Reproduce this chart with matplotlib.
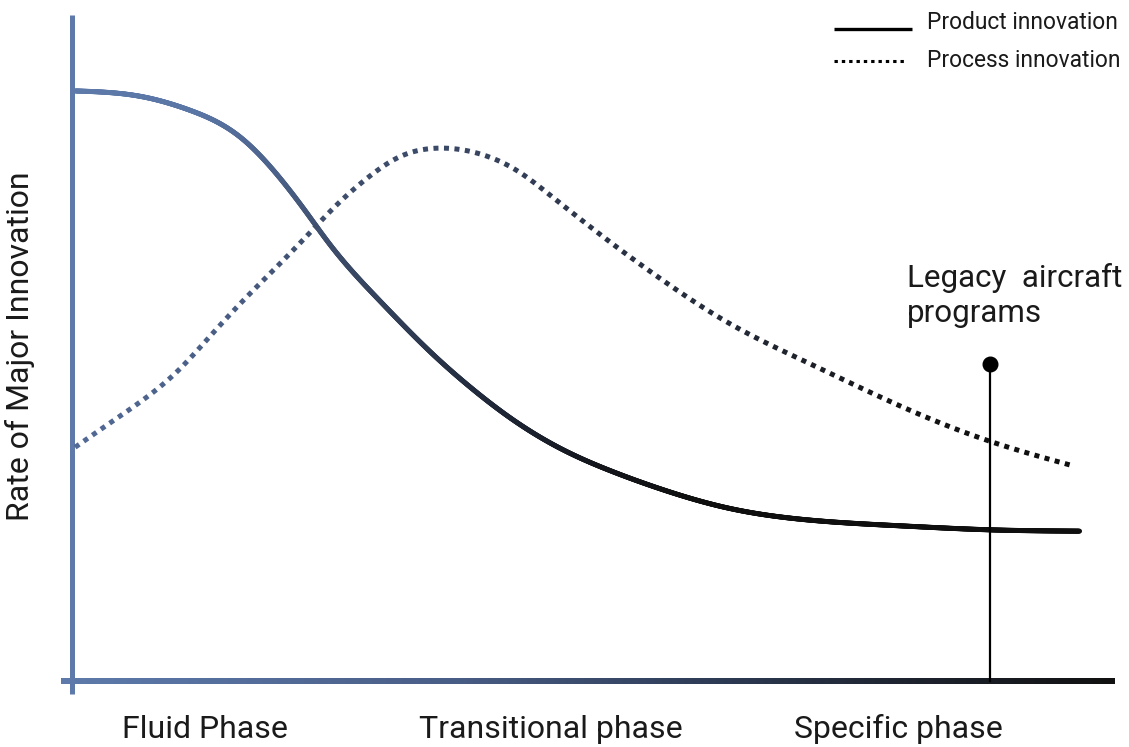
import numpy as np
import matplotlib
matplotlib.use("Agg")
import matplotlib.pyplot as plt
from matplotlib.collections import LineCollection

plt.rcParams['font.family'] = ['Roboto', 'DejaVu Sans']

# curve values (x: time 0-100, y: rate of innovation 0-100)
product_x = [0.3, 6.5, 11.3, 16.1, 19.3, 22.5, 24.7, 29.5, 34.3, 38.2, 42.3, 47.1,
             51.9, 56.7, 62.8, 69.8, 79.4, 88.0, 96.6]
product_y = [88.6, 87.8, 85.7, 81.7, 76.7, 70.3, 65.6, 57.1, 49.5, 44.1, 39.2, 34.7,
             31.4, 28.7, 26.0, 24.3, 23.3, 22.7, 22.5]

process_x = [0.3, 3.6, 6.8, 10.1, 13.2, 16.4, 19.7, 22.8, 25.0, 28.3, 31.4, 35.0,
             39.4, 42.7, 45.8, 51.6, 56.7, 62.8, 70.8, 79.4, 88.0, 96.0]
process_y = [35.1, 38.7, 42.2, 46.5, 51.7, 57.1, 62.3, 67.3, 70.9, 75.5, 78.7, 80.0,
             79.0, 76.6, 73.0, 65.9, 60.1, 53.9, 47.6, 41.3, 36.0, 32.3]

phases = ["Fluid Phase", "Transitional phase", "Specific phase"]
phase_pos = [12.75, 45.9, 79.2]

legacy_x = 88.0
legacy_y = 47.6
legacy_label = ["Legacy  aircraft", "programs"]

# colour gradients, slate blue on the left to near black on the right
axis_stops = [0, 35.3, 60.2, 79.4, 100]
axis_rgb = np.array([[93, 122, 171], [74, 95, 136], [47, 61, 88], [30, 36, 48], [17, 17, 17]]) / 255
product_stops = [0, 12.3, 19.9, 24.7, 33.4, 41.0, 50.6, 60.2]
product_rgb = np.array([[94, 122, 170], [90, 118, 165], [75, 97, 137], [61, 77, 107],
                        [45, 57, 80], [30, 38, 54], [20, 22, 28], [15, 15, 15]]) / 255
process_stops = [0, 16.4, 22.8, 35.0, 51.6, 63.1, 79.4, 96.0]
process_rgb = np.array([[82, 106, 150], [72, 92, 130], [62, 78, 108], [59, 74, 104],
                        [42, 51, 69], [35, 42, 56], [20, 20, 22], [15, 15, 15]]) / 255


def grad_color(x, stops, rgb):
    x = np.atleast_1d(x)
    return np.column_stack([np.interp(x, stops, rgb[:, i]) for i in range(3)])


def spline(x, y, xn):
    # natural cubic spline through the read-off points, only used to draw a smooth curve
    x = np.asarray(x, float)
    y = np.asarray(y, float)
    n = len(x)
    h = np.diff(x)
    A = np.zeros((n, n))
    b = np.zeros(n)
    A[0, 0] = A[-1, -1] = 1
    for k in range(1, n - 1):
        A[k, k - 1] = h[k - 1]
        A[k, k] = 2 * (h[k - 1] + h[k])
        A[k, k + 1] = h[k]
        b[k] = 6 * ((y[k + 1] - y[k]) / h[k] - (y[k] - y[k - 1]) / h[k - 1])
    M = np.linalg.solve(A, b)
    i = np.clip(np.searchsorted(x, xn) - 1, 0, n - 2)
    t = xn - x[i]
    u = x[i + 1] - xn
    return (M[i] * u ** 3 + M[i + 1] * t ** 3) / (6 * h[i]) \
        + (y[i] / h[i] - M[i] * h[i] / 6) * u + (y[i + 1] / h[i] - M[i + 1] * h[i] / 6) * t


fig = plt.figure(figsize=(11.29, 7.47), dpi=100)
ax = fig.add_axes([72 / 1129, 66 / 747, 1043 / 1129, 666 / 747])

# horizontal axis as a gradient strip, vertical axis as a plain line
strip_x = np.linspace(-1.05, 100, 600)
strip = grad_color(strip_x, axis_stops, axis_rgb)[None, :, :]
ax.imshow(strip, extent=[-1.05, 100, -0.38, 0.38], aspect='auto', interpolation='bilinear',
          clip_on=False, zorder=1)
ax.plot([0, 0], [-2, 100], color=axis_rgb[0], lw=3.6, solid_capstyle='butt', clip_on=False, zorder=2)
ax.set_xlim(0, 100)
ax.set_ylim(0, 100)
ax.axis('off')

# product innovation: solid gradient line
xs = np.linspace(product_x[0], product_x[-1], 1500)
c = np.column_stack([xs, spline(product_x, product_y, xs)])
segs = np.stack([c[:-1], c[1:]], axis=1)
ax.add_collection(LineCollection(segs, colors=grad_color((c[:-1, 0] + c[1:, 0]) / 2, product_stops, product_rgb),
                                 linewidths=3.6, capstyle='round', joinstyle='round', zorder=3))

# process innovation: dotted gradient line (dots laid out along arc length in pixels)
xs = np.linspace(process_x[0], process_x[-1], 3000)
c = np.column_stack([xs, spline(process_x, process_y, xs)])
disp = ax.transData.transform(c)
s = np.concatenate([[0], np.cumsum(np.hypot(*np.diff(disp, axis=0).T))])
period, dot = 10.5, 5.0
dots = []
dot_cols = []
for start in np.arange(0, s[-1] - dot, period):
    ss = np.concatenate([[start], s[(s > start) & (s < start + dot)], [start + dot]])
    dx = np.interp(ss, s, c[:, 0])
    dy = np.interp(ss, s, c[:, 1])
    dots.append(np.column_stack([dx, dy]))
    dot_cols.append(grad_color(dx.mean(), process_stops, process_rgb)[0])
ax.add_collection(LineCollection(dots, colors=dot_cols, linewidths=3.6, capstyle='butt', zorder=3))

# legacy aircraft programs marker
ax.plot([legacy_x, legacy_x], [0, legacy_y], color='black', lw=1.6, clip_on=False, zorder=4)
ax.plot([legacy_x], [legacy_y], 'o', color='black', ms=10.5, clip_on=False, zorder=4)
ax.text(80.05, 59.2, legacy_label[0], fontsize=22.6, color='#1a1a1a', ha='left', va='baseline')
ax.text(80.05, 53.9, legacy_label[1], fontsize=22.6, color='#1a1a1a', ha='left', va='baseline')

# phase labels and y label
for name, xp in zip(phases, phase_pos):
    ax.text(xp, -8.56, name, fontsize=23, color='#1a1a1a', ha='center', va='baseline', clip_on=False)
ax.text(-4.95, 50.2, "Rate of Major Innovation", fontsize=23, color='#1a1a1a', rotation=90,
        ha='center', va='center', clip_on=False)

# legend
ax.plot([73.06, 80.54], [97.9, 97.9], color='black', lw=2.4, solid_capstyle='butt', clip_on=False)
ax.plot([73.06, 80.06], [93.1, 93.1], color='black', lw=2.2, dashes=(1.1, 1.3),
        dash_capstyle='butt', clip_on=False)
ax.text(81.98, 97.85, "Product innovation", fontsize=16.4, color='#1a1a1a', ha='left', va='baseline', clip_on=False)
ax.text(81.98, 92.2, "Process innovation", fontsize=16.4, color='#1a1a1a', ha='left', va='baseline', clip_on=False)

fig.savefig("out.png", dpi=100)
